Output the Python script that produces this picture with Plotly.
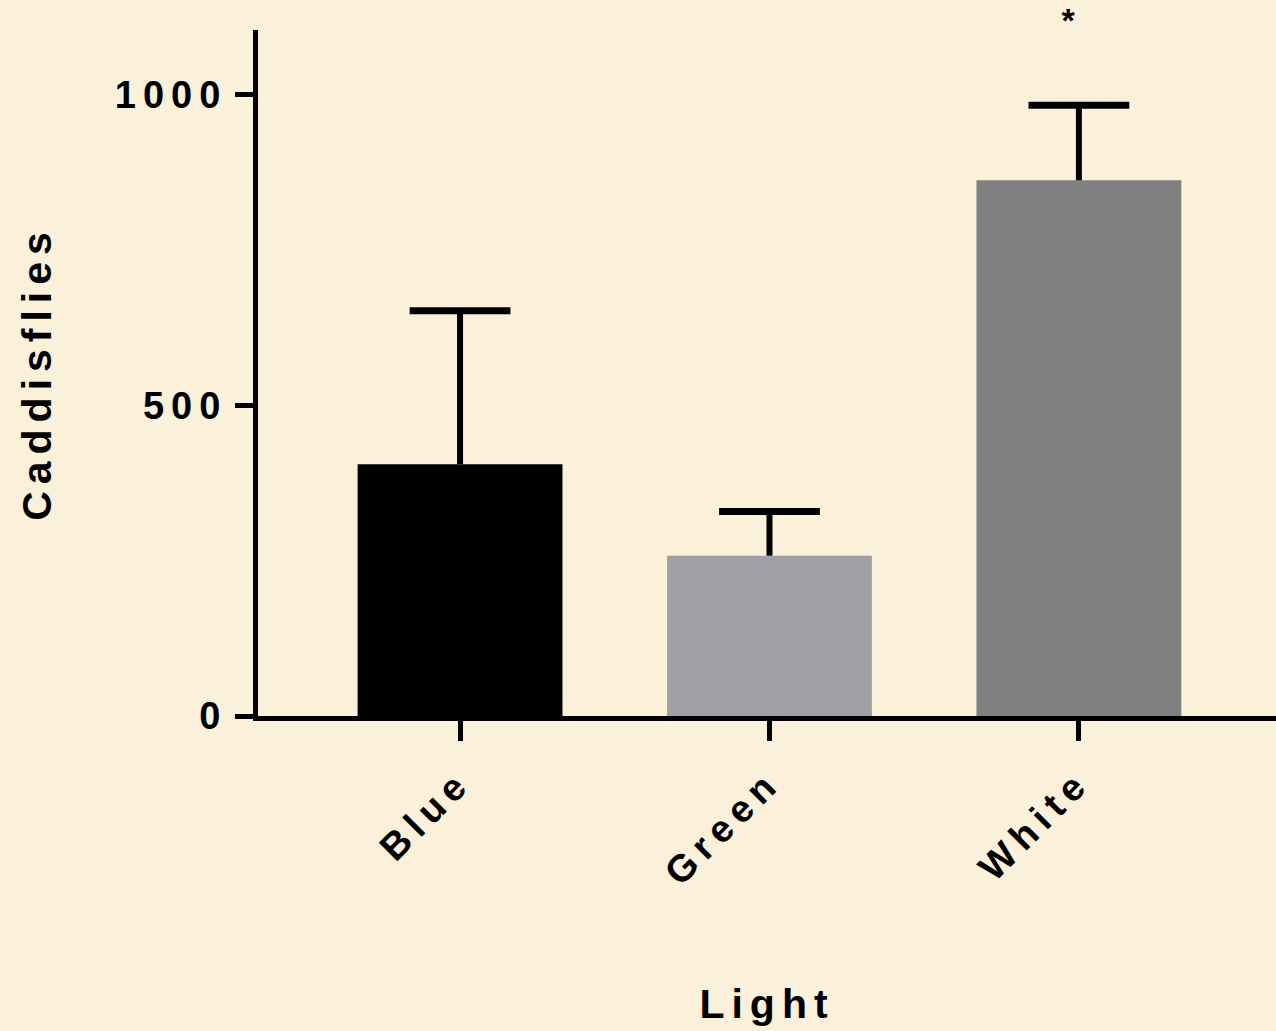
import plotly.graph_objects as go

# Caddisfly counts by light trap colour (mean with upper error)
categories = ["Blue", "Green", "White"]
means = [405, 258, 862]
errors_up = [247, 71, 121]
bar_colors = ["#000000", "#A0A0A4", "#808080"]
y_ticks = [0, 500, 1000]
y_tick_labels = ["0", "500", "1000"]
significance = {"White": "*"}

font_family = "Liberation Sans, Arial, sans-serif"
bg = "#FBF0D9"

fig = go.Figure()

# bars with an upward error stem only (no caps from the error bar itself)
fig.add_trace(go.Bar(
    x=categories,
    y=means,
    width=0.662,
    marker=dict(color=bar_colors, line=dict(width=0)),
    error_y=dict(
        type="data",
        symmetric=False,
        array=errors_up,
        arrayminus=[0] * len(errors_up),
        color="#000000",
        thickness=6,
        width=0,
    ),
    showlegend=False,
    hoverinfo="x+y",
))

# top caps of the error bars
cap_tops = [m + e for m, e in zip(means, errors_up)]
fig.add_trace(go.Scatter(
    x=categories,
    y=cap_tops,
    mode="markers",
    marker=dict(symbol="line-ew", size=72, color="#000000",
                line=dict(width=7, color="#000000")),
    showlegend=False,
    hoverinfo="skip",
    cliponaxis=False,
))

for cat, mark in significance.items():
    fig.add_annotation(
        x=cat, xref="x", y=1, yref="paper",
        text=mark, showarrow=False,
        xshift=-7, yshift=30, yanchor="top", borderpad=0,
        font=dict(family=font_family, size=34, color="#000000", weight="bold"),
    )

fig.update_layout(
    width=1276,
    height=1031,
    autosize=False,
    margin=dict(l=258, r=0, t=30, b=315, pad=0),
    paper_bgcolor=bg,
    plot_bgcolor=bg,
    font=dict(family=font_family, color="#000000", weight="bold"),
)

fig.update_xaxes(
    range=[-0.653, 2.637],
    showline=True, linewidth=5, linecolor="#000000",
    ticks="outside", ticklen=20, tickwidth=5, tickcolor="#000000",
    tickangle=-45,
    tickfont=dict(family=font_family, size=38, weight="bold"),
    ticklabelstandoff=4,
    showgrid=False, zeroline=False,
    title=dict(text="Light", font=dict(family=font_family, size=41, weight="bold"), standoff=123),
    automargin=False,
)

fig.update_yaxes(
    range=[0, 1104],
    tickvals=y_ticks, ticktext=y_tick_labels,
    showline=True, linewidth=5, linecolor="#000000",
    ticks="outside", ticklen=18, tickwidth=5, tickcolor="#000000",
    tickfont=dict(family=font_family, size=38, weight="bold"),
    ticklabelstandoff=0,
    showgrid=False, zeroline=False,
    title=dict(text="Caddisflies", font=dict(family=font_family, size=41, weight="bold"), standoff=80),
    automargin=False,
)

# widen letter spacing of all chart text
spacing_js = """
document.querySelectorAll('.main-svg text').forEach(function (t) {
    t.style.letterSpacing = '7px';
});
"""

fig.write_html("out.html", post_script=spacing_js)
